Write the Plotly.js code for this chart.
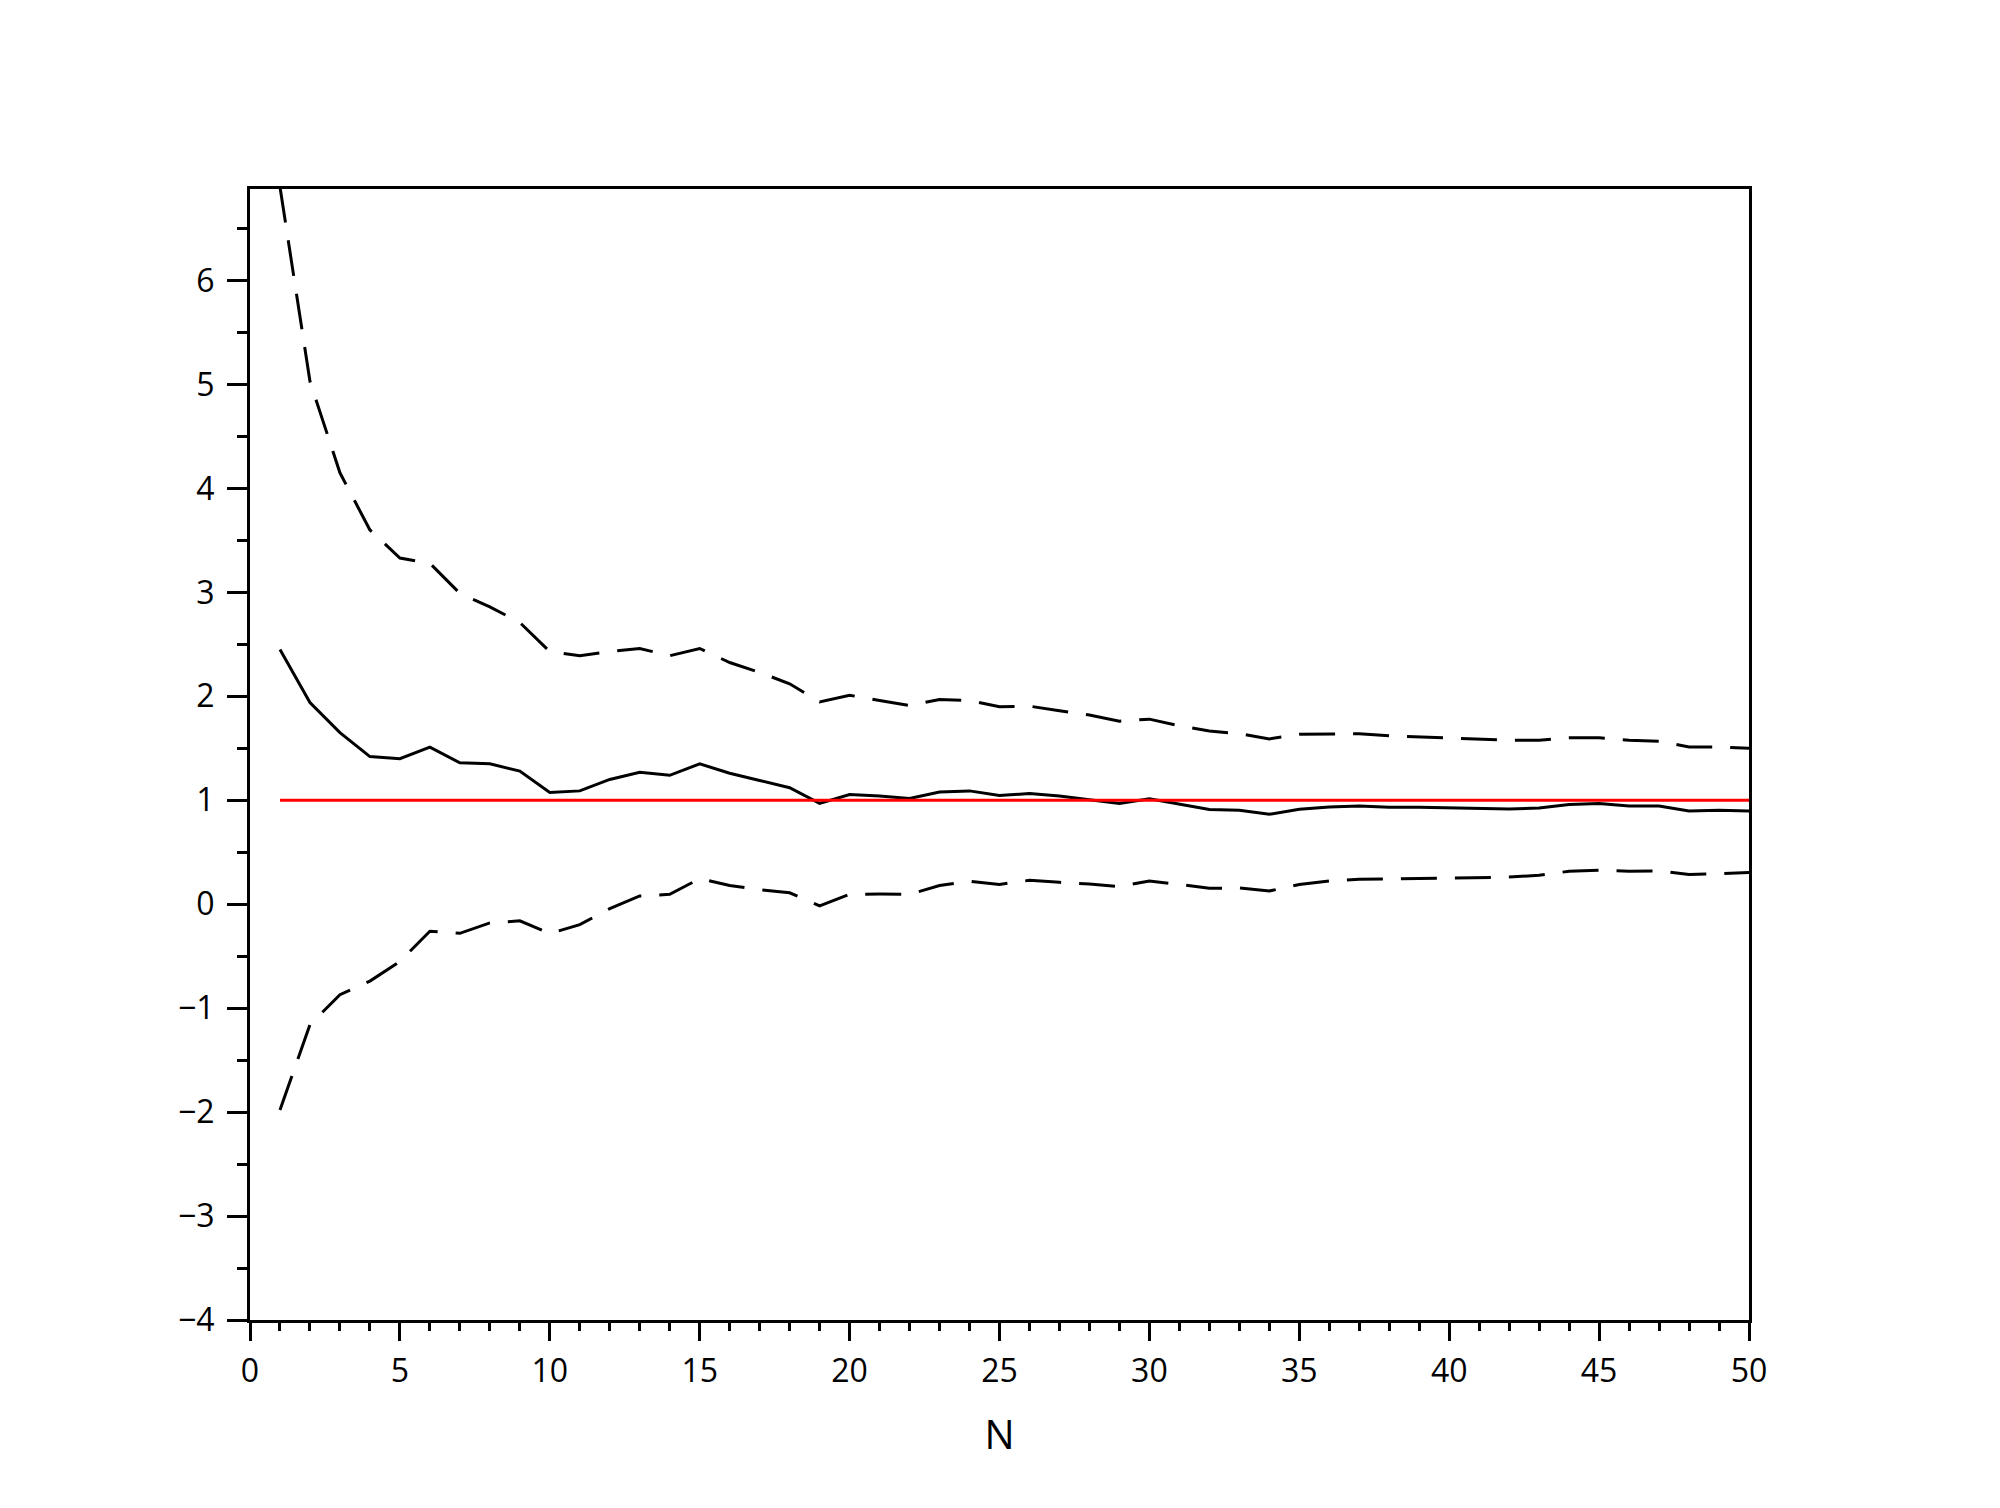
<!DOCTYPE html>
<html>
<head>
<meta charset="utf-8">
<script src="https://cdn.plot.ly/plotly-3.0.1.min.js"></script>
<style>html,body{margin:0;padding:0;background:#fff;}#chart{width:2000px;height:1508px;}</style>
</head>
<body>
<div id="chart"></div>
<script>
const N = [1,2,3,4,5,6,7,8,9,10,11,12,13,14,15,16,17,18,19,20,21,22,23,24,25,26,27,28,29,30,31,32,33,34,35,36,37,38,39,40,41,42,43,44,45,46,47,48,49,50];
const meanVals = [2.45,1.94,1.65,1.42,1.40,1.51,1.36,1.35,1.28,1.075,1.09,1.20,1.27,1.24,1.35,1.26,1.19,1.12,0.97,1.055,1.04,1.016,1.08,1.09,1.045,1.064,1.04,1.006,0.968,1.013,0.96,0.91,0.904,0.865,0.913,0.936,0.945,0.933,0.932,0.925,0.918,0.915,0.926,0.96,0.968,0.945,0.945,0.897,0.904,0.897];
const upperVals = [6.9,5.03,4.15,3.60,3.33,3.28,2.99,2.86,2.71,2.43,2.39,2.43,2.46,2.39,2.46,2.325,2.23,2.12,1.946,2.01,1.96,1.91,1.97,1.96,1.90,1.905,1.86,1.82,1.76,1.78,1.715,1.667,1.64,1.59,1.635,1.64,1.64,1.62,1.61,1.597,1.585,1.577,1.577,1.60,1.60,1.577,1.568,1.513,1.513,1.50];
const lowerVals = [-1.98,-1.16,-0.87,-0.74,-0.55,-0.26,-0.28,-0.18,-0.16,-0.283,-0.197,-0.043,0.079,0.095,0.246,0.18,0.14,0.11,-0.017,0.095,0.098,0.095,0.18,0.22,0.19,0.23,0.21,0.195,0.17,0.224,0.19,0.153,0.156,0.127,0.19,0.224,0.24,0.24,0.246,0.25,0.254,0.261,0.278,0.317,0.326,0.317,0.32,0.285,0.294,0.304];
const refX = [1, 50];
const refY = [1, 1];

const dashPat = '36px,18px';
const traces = [
  {x: N, y: upperVals, mode: 'lines', line: {color: '#000', width: 3, dash: dashPat}, hoverinfo: 'skip'},
  {x: N, y: meanVals, mode: 'lines', line: {color: '#000', width: 3}, hoverinfo: 'skip'},
  {x: N, y: lowerVals, mode: 'lines', line: {color: '#000', width: 3, dash: dashPat}, hoverinfo: 'skip'},
  {x: refX, y: refY, mode: 'lines', line: {color: '#ff0000', width: 3}, hoverinfo: 'skip'}
];

const font = {family: '"Open Sans", "Noto Sans", sans-serif', size: 32, color: '#000'};
const layout = {
  width: 2000, height: 1508,
  paper_bgcolor: '#fff', plot_bgcolor: '#fff',
  showlegend: false,
  margin: {l: 250, r: 251, t: 189, b: 188, pad: 0},
  font: font,
  xaxis: {
    range: [0, 50], autorange: false,
    tickmode: 'linear', tick0: 0, dtick: 5,
    ticks: 'outside', ticklen: 18, tickwidth: 3, tickcolor: '#000',
    minor: {tickmode: 'linear', tick0: 0, dtick: 1, ticks: 'outside', ticklen: 8, tickwidth: 3, tickcolor: '#000', showgrid: false},
    showline: true, linewidth: 3, linecolor: '#000', mirror: true,
    showgrid: false, zeroline: false,
    tickfont: font, ticklabelstandoff: 3,
    title: {text: 'N', font: {family: font.family, size: 40, color: '#000'}, standoff: 31}
  },
  yaxis: {
    range: [-4, 6.88], autorange: false,
    tickmode: 'linear', tick0: 0, dtick: 1,
    ticks: 'outside', ticklen: 20, tickwidth: 3, tickcolor: '#000',
    minor: {tickmode: 'linear', tick0: 0, dtick: 0.5, ticks: 'outside', ticklen: 10, tickwidth: 3, tickcolor: '#000', showgrid: false},
    showline: true, linewidth: 3, linecolor: '#000', mirror: true,
    showgrid: false, zeroline: false,
    tickfont: font, ticklabelstandoff: 6
  }
};
Plotly.newPlot('chart', traces, layout, {staticPlot: true, displayModeBar: false});
</script>
</body>
</html>
